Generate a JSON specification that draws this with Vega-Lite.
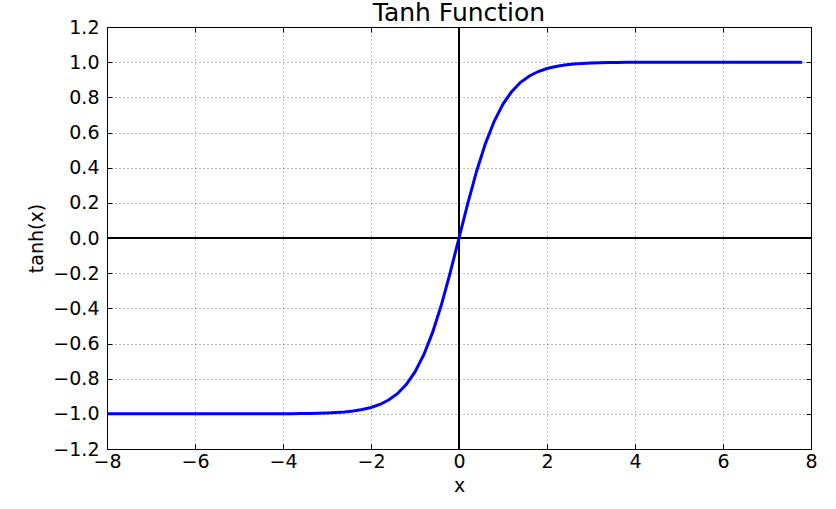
{
  "$schema": "https://vega.github.io/schema/vega-lite/v6.json",
  "autosize": "none",
  "width": 704,
  "height": 422,
  "padding": {"left": 107, "top": 27, "right": 25, "bottom": 60},
  "background": "white",
  "title": {"text": "Tanh Function", "fontSize": 25, "font": "DejaVu Sans", "fontWeight": "normal", "color": "#000", "offset": 0, "dy": 28, "baseline": "alphabetic", "anchor": "middle"},
  "config": {
    "font": "DejaVu Sans",
    "view": {"stroke": "#000", "strokeWidth": 1},
    "axis": {
      "domain": false,
      "labelFont": "DejaVu Sans",
      "labelFontSize": 19,
      "labelColor": "#000",
      "titleFont": "DejaVu Sans",
      "titleFontSize": 19,
      "titleFontWeight": "normal",
      "titleColor": "#000",
      "tickColor": "#000",
      "tickSize": -5,
      "gridColor": "#000",
      "gridOpacity": 0.55,
      "gridDash": [1, 3],
      "gridWidth": 1
    }
  },
  "data": {"values": [
    {"x": -8.0, "y": -1.0000}, {"x": -7.8, "y": -1.0000}, {"x": -7.6, "y": -1.0000}, {"x": -7.4, "y": -1.0000},
    {"x": -7.2, "y": -1.0000}, {"x": -7.0, "y": -1.0000}, {"x": -6.8, "y": -1.0000}, {"x": -6.6, "y": -1.0000},
    {"x": -6.4, "y": -1.0000}, {"x": -6.2, "y": -1.0000}, {"x": -6.0, "y": -1.0000}, {"x": -5.8, "y": -1.0000},
    {"x": -5.6, "y": -1.0000}, {"x": -5.4, "y": -1.0000}, {"x": -5.2, "y": -0.9999}, {"x": -5.0, "y": -0.9999},
    {"x": -4.8, "y": -0.9999}, {"x": -4.6, "y": -0.9998}, {"x": -4.4, "y": -0.9997}, {"x": -4.2, "y": -0.9995},
    {"x": -4.0, "y": -0.9993}, {"x": -3.8, "y": -0.9990}, {"x": -3.6, "y": -0.9985}, {"x": -3.4, "y": -0.9978},
    {"x": -3.2, "y": -0.9967}, {"x": -3.0, "y": -0.9951}, {"x": -2.8, "y": -0.9926}, {"x": -2.6, "y": -0.9890},
    {"x": -2.4, "y": -0.9837}, {"x": -2.2, "y": -0.9757}, {"x": -2.0, "y": -0.9640}, {"x": -1.8, "y": -0.9468},
    {"x": -1.6, "y": -0.9217}, {"x": -1.4, "y": -0.8854}, {"x": -1.2, "y": -0.8337}, {"x": -1.0, "y": -0.7616},
    {"x": -0.8, "y": -0.6640}, {"x": -0.6, "y": -0.5370}, {"x": -0.4, "y": -0.3799}, {"x": -0.2, "y": -0.1974},
    {"x": 0.0, "y": 0.0},
    {"x": 0.2, "y": 0.1974}, {"x": 0.4, "y": 0.3799}, {"x": 0.6, "y": 0.5370}, {"x": 0.8, "y": 0.6640},
    {"x": 1.0, "y": 0.7616}, {"x": 1.2, "y": 0.8337}, {"x": 1.4, "y": 0.8854}, {"x": 1.6, "y": 0.9217},
    {"x": 1.8, "y": 0.9468}, {"x": 2.0, "y": 0.9640}, {"x": 2.2, "y": 0.9757}, {"x": 2.4, "y": 0.9837},
    {"x": 2.6, "y": 0.9890}, {"x": 2.8, "y": 0.9926}, {"x": 3.0, "y": 0.9951}, {"x": 3.2, "y": 0.9967},
    {"x": 3.4, "y": 0.9978}, {"x": 3.6, "y": 0.9985}, {"x": 3.8, "y": 0.9990}, {"x": 4.0, "y": 0.9993},
    {"x": 4.2, "y": 0.9995}, {"x": 4.4, "y": 0.9997}, {"x": 4.6, "y": 0.9998}, {"x": 4.8, "y": 0.9999},
    {"x": 5.0, "y": 0.9999}, {"x": 5.2, "y": 0.9999}, {"x": 5.4, "y": 1.0000}, {"x": 5.6, "y": 1.0000},
    {"x": 5.8, "y": 1.0000}, {"x": 6.0, "y": 1.0000}, {"x": 6.2, "y": 1.0000}, {"x": 6.4, "y": 1.0000},
    {"x": 6.6, "y": 1.0000}, {"x": 6.8, "y": 1.0000}, {"x": 7.0, "y": 1.0000}, {"x": 7.2, "y": 1.0000},
    {"x": 7.4, "y": 1.0000}, {"x": 7.6, "y": 1.0000}, {"x": 7.8, "y": 1.0000}
  ]},
  "resolve": {"axis": {"x": "independent", "y": "independent"}},
  "layer": [
    {
      "mark": {"type": "line", "opacity": 0},
      "encoding": {
        "x": {"field": "x", "type": "quantitative", "scale": {"domain": [-8, 8], "nice": false, "zero": false},
              "axis": {"title": "x", "grid": true, "values": [-8, -6, -4, -2, 0, 2, 4, 6, 8], "format": "d", "labelPadding": 8, "titlePadding": 5, "labelFlush": false}},
        "y": {"field": "y", "type": "quantitative", "scale": {"domain": [-1.2, 1.2], "nice": false, "zero": false},
              "axis": {"title": "tanh(x)", "grid": true, "values": [-1.2, -1.0, -0.8, -0.6, -0.4, -0.2, 0, 0.2, 0.4, 0.6, 0.8, 1.0, 1.2], "format": ".1f", "labelPadding": 13, "titlePadding": 6, "labelFlush": false}}
      }
    },
    {
      "mark": {"type": "rule", "color": "#000", "strokeWidth": 1, "opacity": 0.65},
      "encoding": {"x": {"datum": 0, "type": "quantitative", "axis": null}}
    },
    {
      "mark": {"type": "rule", "color": "#000", "strokeWidth": 1, "opacity": 0.65},
      "encoding": {"y": {"datum": 0, "type": "quantitative", "axis": null}}
    },
    {
      "mark": {"type": "line", "color": "#0000ff", "strokeWidth": 3},
      "encoding": {
        "x": {"field": "x", "type": "quantitative", "axis": {"orient": "top", "labels": false, "grid": false, "title": null, "minExtent": 0, "maxExtent": 0, "labelPadding": 0, "values": [-8, -6, -4, -2, 0, 2, 4, 6, 8]}},
        "y": {"field": "y", "type": "quantitative", "axis": {"orient": "right", "labels": false, "grid": false, "title": null, "minExtent": 0, "maxExtent": 0, "labelPadding": 0, "values": [-1.2, -1.0, -0.8, -0.6, -0.4, -0.2, 0, 0.2, 0.4, 0.6, 0.8, 1.0, 1.2]}}
      }
    }
  ]
}
